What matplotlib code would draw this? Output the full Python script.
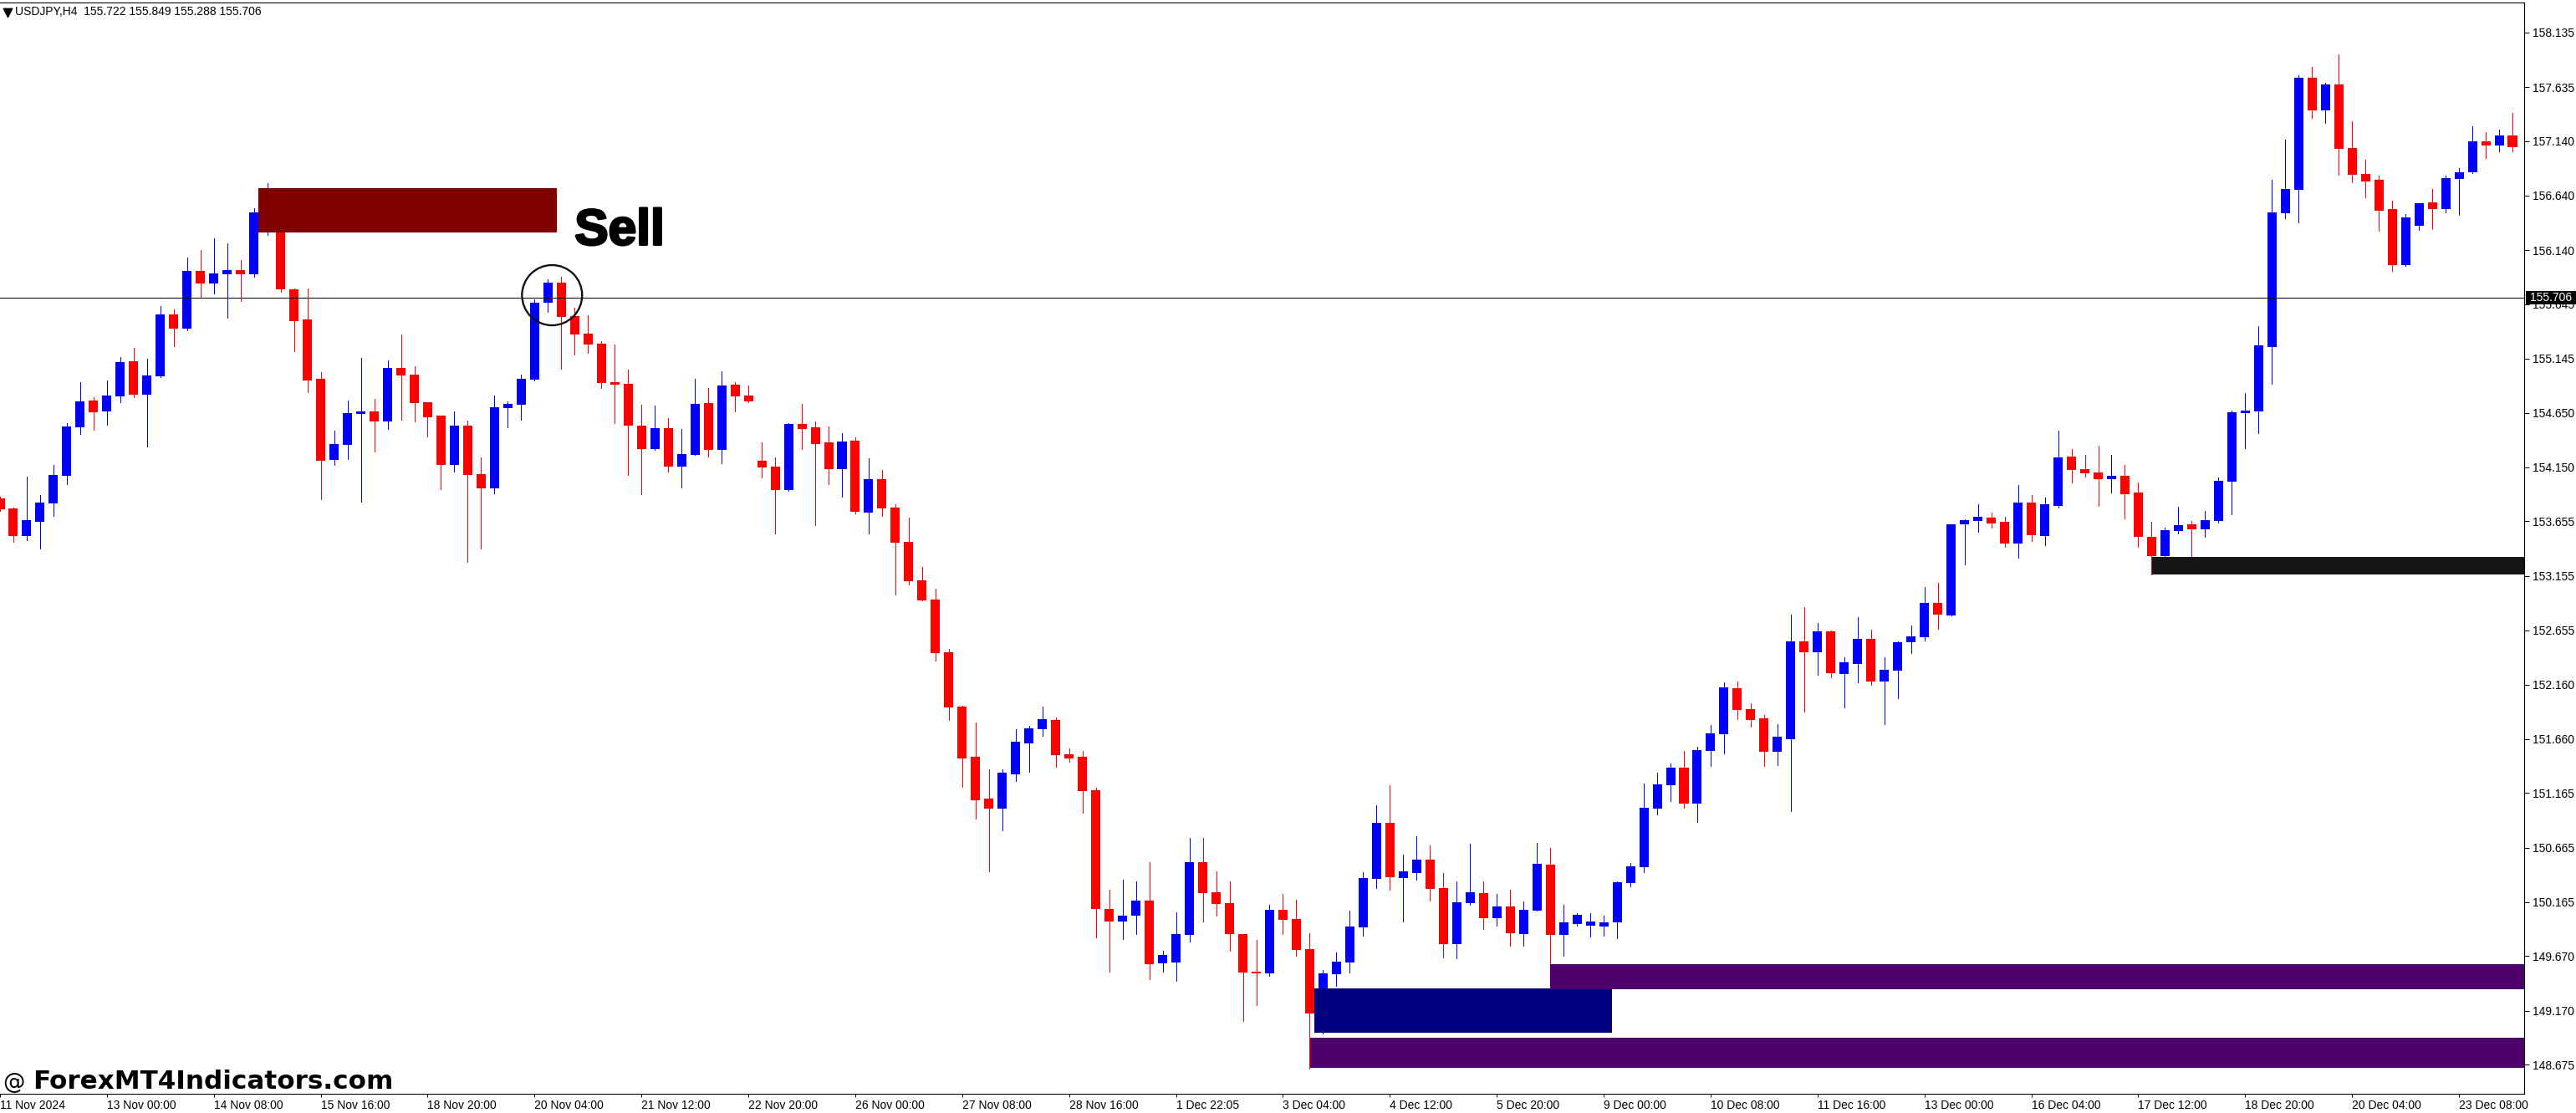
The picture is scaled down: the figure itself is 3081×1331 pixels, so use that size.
import numpy as np
import matplotlib
matplotlib.use('Agg')
import matplotlib.pyplot as plt
from matplotlib.patches import Ellipse, Rectangle
import matplotlib.patheffects as pe

# USDJPY H4 candles. R = down bar, B = up bar
sides = ("RRBBBBBRBBRBBRBRBBRB"
         "BRRRRBBBRBRRRRBRRBBB"
         "BBRRRRRRRBRBBRBRRRRB"
         "RRRBRBRRRRRRRRRBBBBR"
         "RRRRBBRBBBRRRRRBRRRB"
         "BBBBRBBRRBBRBRBBRBBB"
         "BBBBBBRBBBRRRBBRBRBB"
         "RBBBBRBBBRRBRBBRRRBR"
         "RRBBRBBBBBBBBRBRRRRR"
         "BBRBBBRBR")

highs = [153.881, 153.783, 154.068, 153.897, 154.173, 154.552, 154.929, 154.791, 154.945, 155.161,
         155.243, 155.145, 155.626, 155.600, 156.071, 156.140, 156.248, 156.202, 156.049, 156.523,
         156.754, 156.468, 155.787, 155.790, 155.024, 154.487, 154.759, 155.151, 154.778, 155.129,
         155.368, 155.076, 154.745, 154.624, 154.664, 154.579, 154.241, 154.808, 154.755, 154.998,
         155.688, 155.872, 155.895, 155.616, 155.544, 155.309, 155.276, 155.047, 154.723, 154.713,
         154.601, 154.500, 154.962, 154.876, 155.030, 154.929, 154.899, 154.379, 154.241, 154.556,
         154.732, 154.569, 154.523, 154.464, 154.425, 154.230, 154.125, 153.811, 153.688, 153.238,
         153.037, 152.487, 151.964, 151.813, 151.381, 151.381, 151.750, 151.777, 151.959, 151.859,
         151.572, 151.550, 151.213, 150.280, 150.371, 150.357, 150.530, 149.721, 150.071, 150.753,
         150.753, 150.448, 150.357, 149.871, 149.821, 150.139, 150.239, 150.185, 149.880, 149.543,
         149.702, 150.089, 150.439, 151.054, 151.236, 150.599, 150.767, 150.685, 150.430, 150.357,
         150.699, 150.357, 150.239, 150.280, 150.171, 150.708, 150.662, 150.139, 150.066, 150.066,
         150.039, 150.353, 150.526, 151.254, 151.349, 151.436, 151.550, 151.591, 151.786, 152.180,
         152.188, 151.988, 151.882, 151.796, 152.799, 152.869, 152.725, 152.654, 152.412, 152.780,
         152.662, 152.412, 152.557, 152.701, 153.053, 153.092, 153.628, 153.671, 153.812, 153.737,
         153.694, 153.984, 153.898, 153.870, 154.488, 154.316, 154.265, 154.347, 154.265, 154.171,
         154.011, 153.651, 153.593, 153.788, 153.659, 153.749, 154.058, 154.668, 154.832, 155.446,
         156.786, 157.154, 157.744, 157.818, 157.670, 157.936, 157.322, 156.970, 156.821, 156.595,
         156.470, 156.571, 156.700, 156.821, 156.892, 157.275, 157.220, 157.244, 157.396]

body_top = [153.865, 153.773, 153.665, 153.825, 154.081, 154.523, 154.755, 154.762, 154.808, 155.115,
            155.122, 154.991, 155.551, 155.551, 155.950, 155.950, 155.927, 155.957, 155.957, 156.487,
            156.600, 156.402, 155.780, 155.505, 154.962, 154.362, 154.647, 154.664, 154.664, 155.060,
            155.060, 155.001, 154.745, 154.624, 154.533, 154.533, 154.087, 154.700, 154.732, 154.962,
            155.659, 155.842, 155.842, 155.534, 155.374, 155.282, 154.929, 154.916, 154.533, 154.510,
            154.510, 154.271, 154.732, 154.739, 154.899, 154.906, 154.808, 154.209, 154.156, 154.546,
            154.546, 154.516, 154.379, 154.385, 154.395, 154.043, 154.043, 153.779, 153.465, 153.115,
            152.937, 152.455, 151.959, 151.495, 151.113, 151.349, 151.636, 151.759, 151.841, 151.836,
            151.522, 151.495, 151.190, 150.103, 150.039, 150.180, 150.180, 149.680, 149.871, 150.530,
            150.530, 150.257, 150.157, 149.871, 149.529, 150.093, 150.093, 150.012, 149.734, 149.511,
            149.620, 149.943, 150.385, 150.890, 150.890, 150.448, 150.553, 150.553, 150.294, 150.162,
            150.257, 150.248, 150.125, 150.125, 150.093, 150.517, 150.508, 149.980, 150.048, 149.989,
            149.980, 150.348, 150.494, 151.031, 151.245, 151.399, 151.399, 151.559, 151.713, 152.133,
            152.126, 151.934, 151.850, 151.682, 152.557, 152.557, 152.647, 152.647, 152.365, 152.580,
            152.580, 152.294, 152.549, 152.600, 152.909, 152.909, 153.628, 153.667, 153.698, 153.690,
            153.651, 153.827, 153.827, 153.812, 154.242, 154.249, 154.132, 154.105, 154.073, 154.073,
            153.921, 153.514, 153.573, 153.620, 153.628, 153.667, 154.027, 154.656, 154.672, 155.270,
            156.485, 156.700, 157.721, 157.721, 157.658, 157.658, 157.076, 156.837, 156.786, 156.517,
            156.438, 156.571, 156.579, 156.802, 156.853, 157.138, 157.138, 157.189, 157.189]

body_bot = [153.767, 153.521, 153.521, 153.652, 153.819, 154.071, 154.516, 154.654, 154.664, 154.801,
            154.814, 154.814, 154.984, 155.420, 155.420, 155.836, 155.836, 155.918, 155.918, 155.918,
            156.400, 155.780, 155.489, 154.945, 154.209, 154.218, 154.356, 154.641, 154.569, 154.569,
            154.991, 154.739, 154.608, 154.173, 154.173, 154.081, 153.956, 153.956, 154.693, 154.723,
            154.955, 155.659, 155.528, 155.368, 155.276, 154.922, 154.906, 154.533, 154.317, 154.317,
            154.156, 154.156, 154.264, 154.310, 154.310, 154.801, 154.755, 154.150, 153.943, 153.943,
            154.500, 154.362, 154.133, 154.133, 153.740, 153.734, 153.775, 153.461, 153.106, 152.928,
            152.446, 151.950, 151.481, 151.099, 151.022, 151.022, 151.336, 151.618, 151.750, 151.513,
            151.481, 151.181, 150.103, 149.989, 149.989, 150.039, 149.598, 149.602, 149.611, 149.866,
            150.248, 150.148, 149.871, 149.520, 149.511, 149.511, 150.002, 149.725, 149.143, 149.143,
            149.507, 149.611, 149.934, 150.380, 150.394, 150.385, 150.430, 150.285, 149.780, 149.780,
            150.157, 150.016, 150.016, 149.880, 149.871, 150.089, 149.866, 149.866, 149.966, 149.948,
            149.943, 149.980, 150.339, 150.485, 151.022, 151.236, 151.067, 151.067, 151.550, 151.705,
            151.926, 151.835, 151.544, 151.544, 151.658, 152.455, 152.455, 152.263, 152.255, 152.350,
            152.190, 152.190, 152.289, 152.545, 152.592, 152.799, 152.791, 153.628, 153.659, 153.636,
            153.452, 153.452, 153.530, 153.522, 153.796, 154.124, 154.097, 154.042, 154.042, 153.905,
            153.514, 153.339, 153.339, 153.565, 153.581, 153.581, 153.659, 154.019, 154.648, 154.664,
            155.254, 156.477, 156.692, 157.420, 157.420, 157.068, 156.829, 156.771, 156.501, 156.004,
            156.004, 156.364, 156.517, 156.517, 156.794, 156.853, 157.099, 157.099, 157.083]

lows = [153.750, 153.465, 153.485, 153.406, 153.704, 153.996, 154.454, 154.493, 154.539, 154.745,
        154.791, 154.339, 154.978, 155.260, 155.407, 155.708, 155.744, 155.521, 155.672, 155.895,
        156.278, 155.760, 155.214, 154.837, 153.858, 154.173, 154.225, 153.835, 154.294, 154.500,
        154.585, 154.569, 154.431, 153.950, 154.110, 153.279, 153.406, 153.911, 154.520, 154.585,
        154.945, 155.574, 155.053, 155.184, 155.197, 154.876, 154.556, 154.081, 153.904, 154.307,
        154.110, 153.966, 154.264, 154.248, 154.186, 154.664, 154.745, 154.058, 153.544, 153.933,
        154.317, 153.619, 153.996, 153.881, 153.724, 153.542, 153.706, 152.983, 153.078, 152.928,
        152.378, 151.836, 151.222, 150.931, 150.444, 150.822, 151.277, 151.358, 151.691, 151.404,
        151.449, 150.985, 149.843, 149.529, 149.825, 149.871, 149.457, 149.529, 149.443, 149.802,
        149.989, 150.039, 149.721, 149.074, 149.220, 149.488, 149.871, 149.675, 148.642, 148.961,
        149.397, 149.520, 149.857, 150.294, 150.280, 149.989, 150.371, 150.180, 149.657, 149.652,
        150.139, 149.921, 149.948, 149.766, 149.766, 150.089, 149.498, 149.675, 149.948, 149.848,
        149.857, 149.834, 150.307, 150.439, 150.967, 151.090, 151.031, 150.899, 151.413, 151.529,
        151.843, 151.773, 151.412, 151.420, 150.999, 151.910, 152.245, 152.227, 151.949, 152.180,
        152.159, 151.796, 152.035, 152.451, 152.561, 152.670, 152.791, 153.260, 153.557, 153.597,
        153.421, 153.323, 153.475, 153.436, 153.780, 154.011, 154.066, 153.796, 153.921, 153.683,
        153.421, 153.167, 153.319, 153.546, 153.331, 153.514, 153.640, 153.722, 154.324, 154.464,
        154.914, 156.431, 156.395, 157.353, 157.306, 156.829, 156.763, 156.622, 156.317, 155.950,
        155.997, 156.325, 156.333, 156.485, 156.462, 156.845, 156.986, 157.044, 157.044]

y_ticks = [158.135, 157.635, 157.140, 156.640, 156.140, 155.645, 155.145, 154.650, 154.150, 153.655,
           153.155, 152.655, 152.160, 151.660, 151.165, 150.665, 150.165, 149.670, 149.170, 148.675]

x_tick_labels = ["11 Nov 2024", "13 Nov 00:00", "14 Nov 08:00", "15 Nov 16:00", "18 Nov 20:00",
                 "20 Nov 04:00", "21 Nov 12:00", "22 Nov 20:00", "26 Nov 00:00", "27 Nov 08:00",
                 "28 Nov 16:00", "1 Dec 22:05", "3 Dec 04:00", "4 Dec 12:00", "5 Dec 20:00",
                 "9 Dec 00:00", "10 Dec 08:00", "11 Dec 16:00", "13 Dec 00:00", "16 Dec 04:00",
                 "17 Dec 12:00", "18 Dec 20:00", "20 Dec 04:00", "23 Dec 08:00"]

# zones: first bar, last bar, upper price, lower price, colour
zone_start = [19.36, 98.35, 116.0, 98.03, 161.03]
zone_end = [41.65, 120.65, 188.875, 188.875, 188.875]
zone_top = [156.708, 149.375, 149.598, 148.923, 153.331]
zone_bot = [156.304, 148.969, 149.367, 148.646, 153.167]
zone_color = ['#800000', '#000080', '#50006A', '#50006A', '#151515']

last_price = 155.706
chart_title = "USDJPY,H4  155.722 155.849 155.288 155.706"

W, H = 3081, 1331
BLUE, RED = '#0000FF', '#FF0000'
LABEL_FONT = 'Liberation Sans'

plt.rcParams['font.family'] = LABEL_FONT
fig = plt.figure(figsize=(W / 100, H / 100), dpi=100, facecolor='white')
ax = fig.add_axes([0, 1 - 1308 / H, 3019 / W, (1308 - 2.5) / H])

bars = np.arange(len(sides))
colors = [BLUE if s == 'B' else RED for s in sides]

ax.vlines(bars, lows, highs, colors=colors, linewidth=0.7, antialiased=False, zorder=2)
ax.bar(bars, np.array(body_top) - np.array(body_bot), bottom=body_bot, width=0.69,
       color=colors, linewidth=0, antialiased=False, zorder=3)

ax.axhline(last_price, color='black', linewidth=0.7, antialiased=False, zorder=4)

for x0, x1, top, bot, col in zip(zone_start, zone_end, zone_top, zone_bot, zone_color):
    ax.add_patch(Rectangle((x0, bot), x1 - x0, top - bot, facecolor=col, edgecolor='none',
                           antialiased=False, zorder=5))
# pale left edge on the two boxed zones
ax.vlines([zone_start[0], zone_start[1]], [zone_bot[0], zone_bot[1]], [zone_top[0], zone_top[1]],
          colors='#FFB080', linewidth=0.7, antialiased=False, zorder=4.5)

ax.add_patch(Ellipse((41.31, 155.727), 4.5, 0.552, fill=False, edgecolor='#111111', linewidth=1.7, zorder=6))
ax.text(43.0, 156.19, "Sell", family='Liberation Sans', weight='bold', fontsize=43.5, va='baseline',
        color='black', zorder=7, path_effects=[pe.withStroke(linewidth=2, foreground='black')])

ax.set_xlim(0.1875, 188.875)
ax.set_ylim(148.409, 158.413)

ax.set_yticks(y_ticks)
ax.set_yticklabels(["%.3f" % v for v in y_ticks])
ax.yaxis.tick_right()
ax.tick_params(axis='y', length=4, width=0.7, pad=3, labelsize=10, colors='black')

ax.set_xticks(np.arange(0, 189, 8))
ax.set_xticklabels(x_tick_labels, ha='left')
ax.tick_params(axis='x', length=3, width=0.7, pad=2, labelsize=10, colors='black')

for side in ['top', 'right', 'bottom']:
    ax.spines[side].set_linewidth(0.8)
ax.spines['left'].set_visible(False)

# price tag over the axis
tr = ax.get_yaxis_transform()
ax.add_patch(Rectangle((1.0007, last_price - 0.061), 0.02, 0.122, transform=tr, facecolor='black',
                       edgecolor='none', clip_on=False, zorder=8))
ax.text(1.0023, last_price, "%.3f" % last_price, transform=tr, color='white', fontsize=10,
        va='center', ha='left', clip_on=False, zorder=9)

# header and watermark
fig.text(18 / W, 1 - 14 / H, chart_title, fontsize=10, va='center', ha='left')
ax.scatter([0.003], [0.9905], marker='v', s=55, color='black', transform=ax.transAxes, clip_on=False, zorder=9)
fig.text(3 / W, 1 - 1302 / H, "@", family='DejaVu Sans', fontsize=19, va='baseline', ha='left')
fig.text(39 / W, 1 - 1302 / H, "ForexMT4Indicators.com", family='DejaVu Sans', fontsize=22.3, weight='bold',
         va='baseline', ha='left')

fig.savefig('out.png', dpi=100)
